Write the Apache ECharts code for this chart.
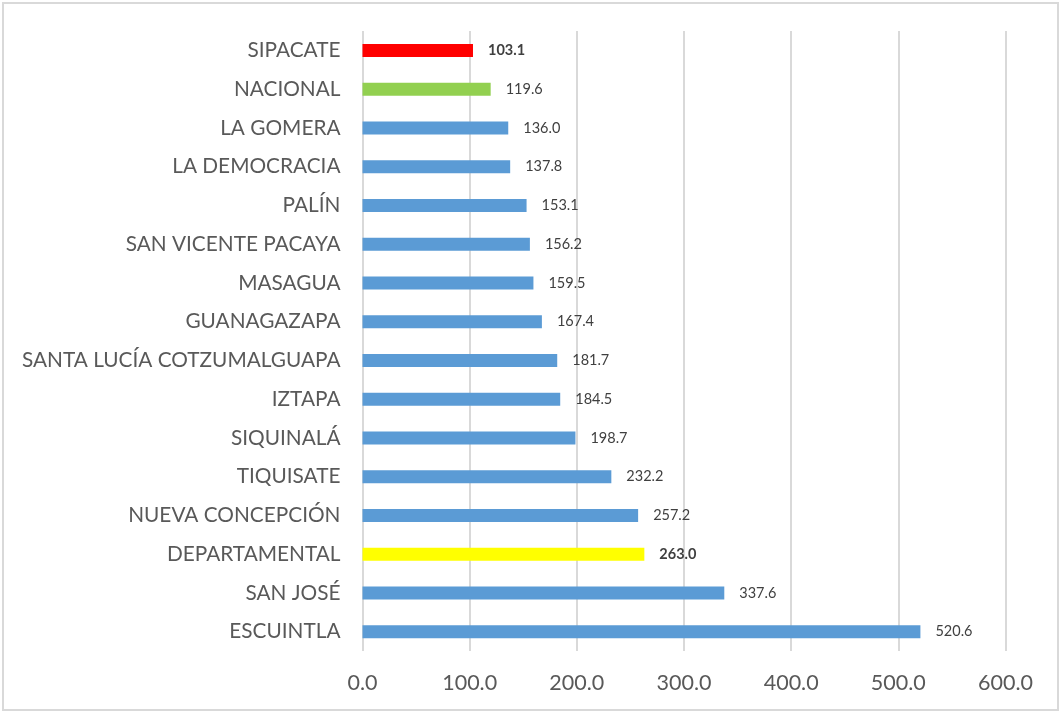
<!DOCTYPE html>
<html><head><meta charset="utf-8">
<script src="https://cdn.jsdelivr.net/npm/echarts@6/dist/echarts.min.js"></script>
<style>html,body{margin:0;padding:0;background:#fff}#c{width:1061px;height:713px}</style>
</head><body><div id="c"></div>
<script>
const categories = ["ESCUINTLA","SAN JOSÉ","DEPARTAMENTAL","NUEVA CONCEPCIÓN","TIQUISATE","SIQUINALÁ","IZTAPA","SANTA LUCÍA COTZUMALGUAPA","GUANAGAZAPA","MASAGUA","SAN VICENTE PACAYA","PALÍN","LA DEMOCRACIA","LA GOMERA","NACIONAL","SIPACATE"];
const values = [520.6,337.6,263.0,257.2,232.2,198.7,184.5,181.7,167.4,159.5,156.2,153.1,137.8,136.0,119.6,103.1];
const xTicks = [0,100,200,300,400,500,600];
const highlight = {"SIPACATE":"#FF0000","NACIONAL":"#92D050","DEPARTAMENTAL":"#FFFF00"};
const boldLabels = ["SIPACATE","DEPARTAMENTAL"];

const chart = echarts.init(document.getElementById('c'), null, {renderer:'canvas'});
const font = "Lato, 'Open Sans', sans-serif";
chart.setOption({
  animation:false,
  graphic:[{type:'rect',shape:{x:3,y:3,width:1055,height:707},style:{fill:'none',stroke:'#d9d9d9',lineWidth:2}}],
  grid:{left:362.5,right:55.5,top:31,bottom:62,containLabel:false},
  xAxis:{type:'value',min:xTicks[0],max:xTicks[xTicks.length-1],interval:100,
    axisLine:{show:false},axisTick:{show:false},
    splitLine:{lineStyle:{color:'#d9d9d9',width:2}},
    axisLabel:{formatter:v=>v.toFixed(1),color:'#595959',fontSize:21.5,fontFamily:font,margin:21}},
  yAxis:{type:'category',data:categories,axisLine:{show:false},axisTick:{show:false},
    axisLabel:{color:'#595959',fontSize:20.8,fontFamily:font,margin:22}},
  series:[{type:'bar',barWidth:13,
    data:values.map((v,i)=>({value:v,itemStyle:{color:highlight[categories[i]]||'#5B9BD5'},
      label:{fontWeight:boldLabels.includes(categories[i])?'bold':'normal'}})),
    label:{show:true,position:'right',distance:15,formatter:p=>p.value.toFixed(1),color:'#404040',fontSize:14.5,fontFamily:font}}]
});
</script></body></html>
